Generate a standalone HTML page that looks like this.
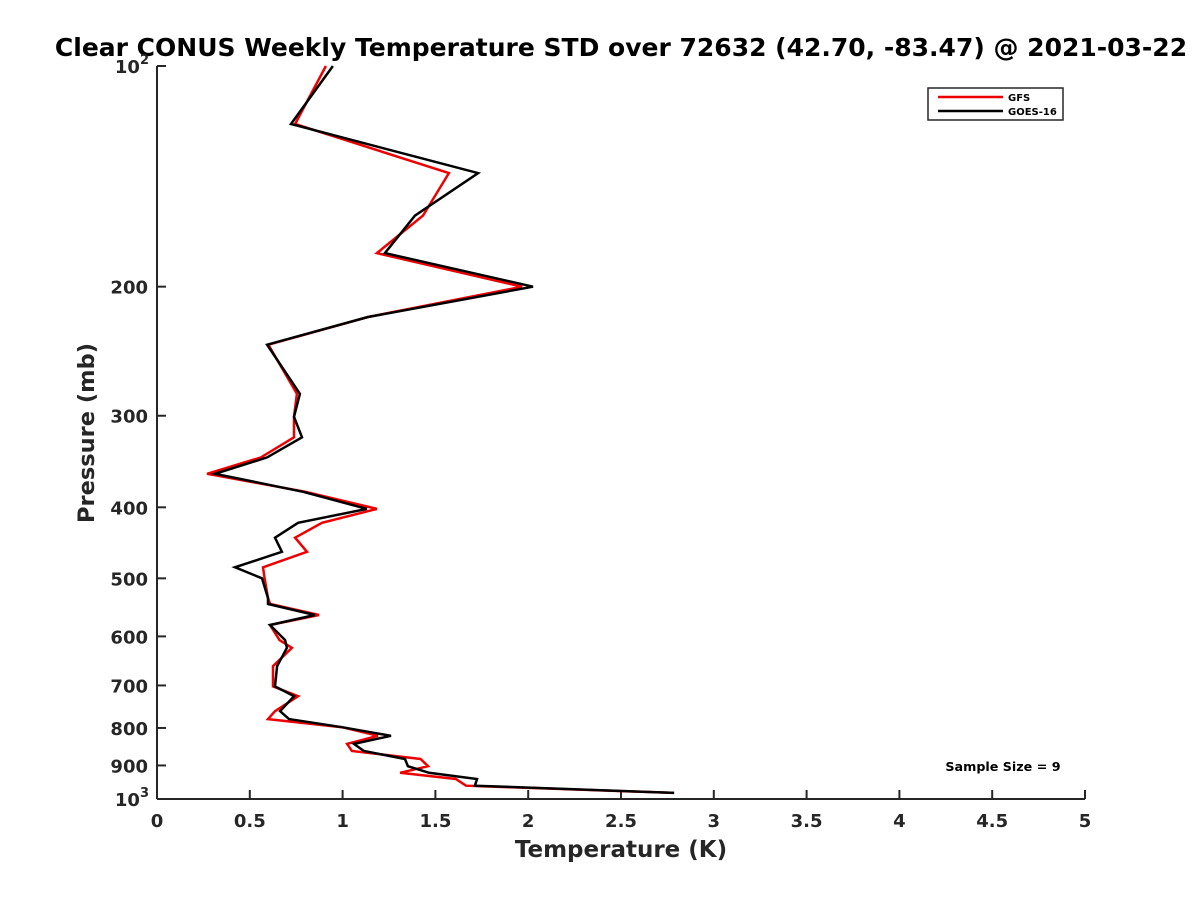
<!DOCTYPE html>
<html><head><meta charset="utf-8"><style>
body{margin:0;background:#fff;}
svg text{font-family:"DejaVu Sans","Liberation Sans",sans-serif;font-weight:bold;}
</style></head><body>
<svg id="chart" width="1200" height="900" xmlns="http://www.w3.org/2000/svg">
<rect width="1200" height="900" fill="#fff"/>
<text x="621" y="56" font-size="25" text-anchor="middle" fill="#000">Clear CONUS Weekly Temperature STD over 72632 (42.70, -83.47) @ 2021-03-22</text>
<g id="axes"></g>
<g id="series"></g>
<g>
<rect x="928" y="88" width="135" height="32" fill="#fff" stroke="#262626" stroke-width="1.5"/>
<line x1="938" y1="97" x2="1003" y2="97" stroke="#e00" stroke-width="2.5"/>
<text x="1008" y="101" font-size="10" fill="#000">GFS</text>
<line x1="938" y1="111" x2="1003" y2="111" stroke="#000" stroke-width="2.5"/>
<text x="1008" y="115" font-size="10" fill="#000">GOES-16</text>
</g>
<text x="1003" y="771" font-size="12.7" text-anchor="middle" fill="#000">Sample Size = 9</text>
<text x="621" y="857" font-size="23" text-anchor="middle" fill="#262626">Temperature (K)</text>
<text transform="translate(94,433) rotate(-90)" font-size="22.5" text-anchor="middle" fill="#262626">Pressure (mb)</text>
</svg>
<script>
const pressures=[100,120,140,160,180,200,220,240,280,301,321,342,360,381,402,420,440,460,483,500,532,542,561,579,607,622,659,702,724,759,778,798,820,841,860,882,902,921,939,959,981];
const goesStd=[0.948,0.722,1.730,1.390,1.228,2.026,1.137,0.593,0.770,0.738,0.781,0.593,0.313,0.787,1.131,0.760,0.636,0.673,0.420,0.566,0.598,0.598,0.851,0.609,0.690,0.700,0.647,0.636,0.738,0.663,0.711,0.997,1.261,1.061,1.115,1.336,1.352,1.466,1.724,1.713,2.786];
const gfsStd=[0.910,0.744,1.573,1.433,1.185,1.967,1.137,0.600,0.754,0.738,0.738,0.560,0.270,0.800,1.185,0.889,0.744,0.808,0.571,0.580,0.598,0.610,0.873,0.609,0.660,0.727,0.625,0.625,0.760,0.636,0.598,0.997,1.190,1.024,1.050,1.420,1.460,1.310,1.610,1.665,2.786];
const xTicks=[0,0.5,1,1.5,2,2.5,3,3.5,4,4.5,5];
const xTickLabels=["0","0.5","1","1.5","2","2.5","3","3.5","4","4.5","5"];
const yTicks=[100,200,300,400,500,600,700,800,900,1000];
const yTickLabels=["10^2","200","300","400","500","600","700","800","900","10^3"];
const NS="http://www.w3.org/2000/svg";
const L=157,R=1085,T=66,B=799;
function xs(v){return L+(v-0)/(5-0)*(R-L);}
function ys(p){return T+(Math.log10(p)-2)/1*(B-T);}
function mk(tag,attrs,parent){const e=document.createElementNS(NS,tag);for(const k in attrs)e.setAttribute(k,attrs[k]);parent.appendChild(e);return e;}
const ax=document.getElementById('axes');
let a=mk('line',{x1:L,y1:T,x2:L,y2:B,stroke:'#262626','stroke-width':2},ax);


a=mk('line',{x1:L,y1:B,x2:R,y2:B,stroke:'#262626','stroke-width':2},ax);


xTicks.forEach((v,i)=>{
  const t=mk('line',{x1:xs(v),y1:B,x2:xs(v),y2:B-9,stroke:'#262626','stroke-width':2},ax);
  
  
  const tx=mk('text',{x:xs(v),y:B+28,'font-size':18,'text-anchor':'middle',fill:'#262626'},ax);
  tx.textContent=xTickLabels[i];
  
  
});
yTicks.forEach((p,i)=>{
  const y=ys(p);
  const t=mk('line',{x1:L,y1:y,x2:L+9,y2:y,stroke:'#262626','stroke-width':2},ax);
  
  
  const lab=yTickLabels[i];
  const tx=mk('text',{x:L-9,y:y+7,'font-size':18,'text-anchor':'end',fill:'#262626'},ax);
  
  
  if(lab.indexOf('^')>=0){
    const [b,e]=lab.split('^');
    const s1=document.createElementNS(NS,'tspan');s1.textContent=b;tx.appendChild(s1);
    const s2=document.createElementNS(NS,'tspan');s2.textContent=e;s2.setAttribute('font-size','13');s2.setAttribute('dy','-9');tx.appendChild(s2);
    tx.setAttribute('x',L-8);
  } else tx.textContent=lab;
});
const sg=document.getElementById('series');
function draw(vals,color,name){
  const pts=vals.map((v,i)=>xs(v).toFixed(1)+','+ys(pressures[i]).toFixed(1)).join(' ');
  const pl=mk('polyline',{points:pts,fill:'none',stroke:color,'stroke-width':2.5,'stroke-linejoin':'miter'},sg);
  
  
}
draw(gfsStd,'#e00','gfs-line');
draw(goesStd,'#000','goes16-line');
</script>
</body></html>
